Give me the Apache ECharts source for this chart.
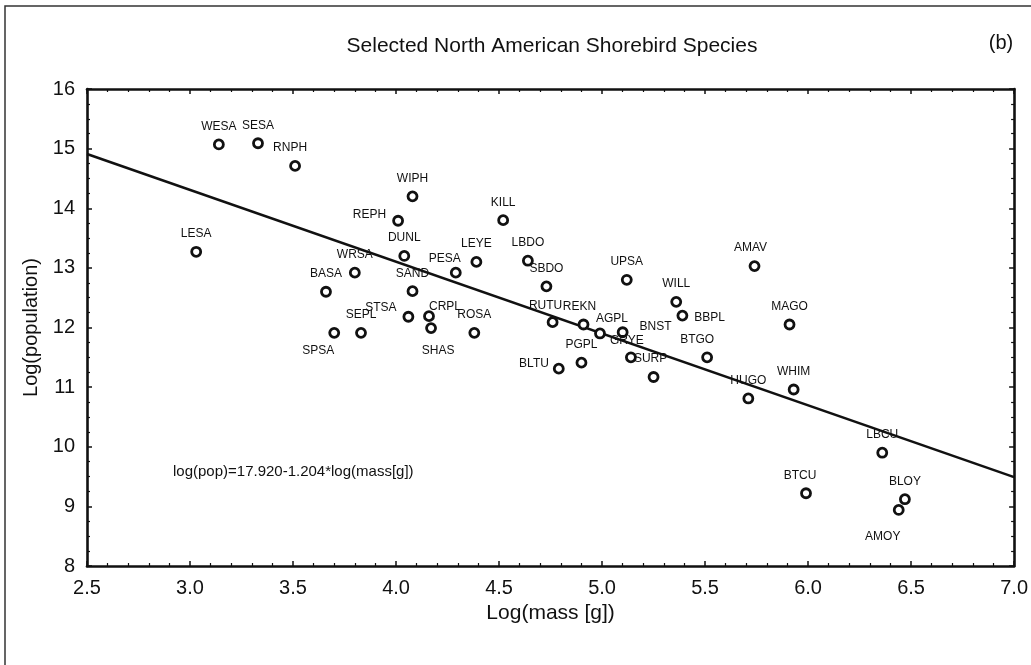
<!DOCTYPE html>
<html>
<head>
<meta charset="utf-8">
<title>Selected North American Shorebird Species</title>
<script src="https://cdn.jsdelivr.net/npm/echarts@6/dist/echarts.min.js"></script>
<style>
  html, body { margin: 0; padding: 0; background: #fff; }
  #chart { width: 1031px; height: 665px; }
</style>
</head>
<body>
<div id="chart"></div>
<script>
  // species codes, log(mass [g]) and log(population)
  var species = ['WESA','SESA','RNPH','LESA','REPH','WIPH','KILL','DUNL','LEYE','LBDO',
                 'PESA','SBDO','WRSA','SAND','BASA','UPSA','AMAV','WILL','BBPL','MAGO',
                 'STSA','CRPL','SHAS','ROSA','SEPL','SPSA','RUTU','REKN','AGPL','BNST',
                 'GRYE','SURP','PGPL','BLTU','BTGO','HUGO','WHIM','LBCU','BTCU','BLOY','AMOY'];
  var logMass = [3.14, 3.33, 3.51, 3.03, 4.01, 4.08, 4.52, 4.04, 4.39, 4.64,
                 4.29, 4.73, 3.80, 4.08, 3.66, 5.12, 5.74, 5.36, 5.39, 5.91,
                 4.06, 4.16, 4.17, 4.38, 3.83, 3.70, 4.76, 4.91, 4.99, 5.10,
                 5.14, 5.25, 4.90, 4.79, 5.51, 5.71, 5.93, 6.36, 5.99, 6.47, 6.44];
  var logPop  = [15.07, 15.09, 14.71, 13.27, 13.79, 14.20, 13.80, 13.20, 13.10, 13.12,
                 12.92, 12.69, 12.92, 12.61, 12.60, 12.80, 13.03, 12.43, 12.20, 12.05,
                 12.18, 12.19, 11.99, 11.91, 11.91, 11.91, 12.09, 12.05, 11.90, 11.92,
                 11.50, 11.17, 11.41, 11.31, 11.50, 10.81, 10.96, 9.90, 9.22, 9.12, 8.94];

  // fitted line, ends read at the plot edges
  var fitMass = [2.5, 7.0];
  var fitPop  = [14.91, 9.49];
  var fitText = 'log(pop)=17.920-1.204*log(mass[g])';

  // label placement for the ones not sitting straight above their circle
  var labelPlace = {
    RNPH: { position: 'top', offset: [-5, 0] },
    REPH: { position: 'left', offset: [0, -6] },
    PESA: { position: 'top', offset: [-11, 4] },
    BBPL: { position: 'right', offset: [0, 2] },
    STSA: { position: 'left', offset: [0, -9] },
    SPSA: { position: 'bottom', offset: [-16, 0] },
    CRPL: { position: 'top', offset: [16, 8] },
    SHAS: { position: 'bottom', offset: [7, 5] },
    AGPL: { position: 'top', offset: [12, 3] },
    BNST: { position: 'right', offset: [5, -6] },
    BLTU: { position: 'left', offset: [2, -5] },
    AMOY: { position: 'bottom', offset: [-16, 9] },
    GRYE: { position: 'top', offset: [-4, 1] },
    RUTU: { position: 'top', offset: [-7, 1] },
    REKN: { position: 'top', offset: [-4, 0] },
    SURP: { position: 'top', offset: [-3, 0] },
    BTCU: { position: 'top', offset: [-6, 0] },
    BTGO: { position: 'top', offset: [-10, 0] },
    AMAV: { position: 'top', offset: [-4, 0] }
  };

  var FONT = '"Liberation Sans", Arial, sans-serif';
  var INK = '#111';

  var points = species.map(function (name, i) {
    var p = { name: name, value: [logMass[i], logPop[i]] };
    if (labelPlace[name]) p.label = labelPlace[name];
    return p;
  });

  var tickStyle = {
    axisLine: { show: true, onZero: false, lineStyle: { color: INK, width: 2.6 } },
    axisTick: { show: true, inside: true, length: 5, lineStyle: { color: INK, width: 1.5 } },
    minorTick: { show: true, length: 3, lineStyle: { color: INK, width: 1.2 } },
    splitLine: { show: false },
    minorSplitLine: { show: false }
  };

  function axis(extra) {
    return Object.assign({}, JSON.parse(JSON.stringify(tickStyle)), extra);
  }

  var chart = echarts.init(document.getElementById('chart'));
  chart.setOption({
    backgroundColor: '#fff',
    animation: false,
    grid: { left: 87, right: 14, top: 89, bottom: 99 },
    xAxis: [
      axis({
        type: 'value', position: 'bottom', min: 2.5, max: 7, interval: 0.5,
        minorTick: { show: true, splitNumber: 5, length: 3, lineStyle: { color: INK, width: 1.2 } },
        axisLabel: {
          margin: 12, fontSize: 20, color: INK, fontFamily: FONT,
          formatter: function (v) { return v.toFixed(1); }
        },
        name: 'Log(mass [g])', nameLocation: 'middle', nameGap: 36,
        nameTextStyle: { fontSize: 21, color: INK, fontFamily: FONT }
      }),
      axis({
        type: 'value', position: 'top', min: 2.5, max: 7, interval: 0.5,
        minorTick: { show: true, splitNumber: 5, length: 3, lineStyle: { color: INK, width: 1.2 } },
        axisLabel: { show: false }
      })
    ],
    yAxis: [
      axis({
        type: 'value', position: 'left', min: 8, max: 16, interval: 1,
        minorTick: { show: true, splitNumber: 4, length: 3, lineStyle: { color: INK, width: 1.2 } },
        axisLabel: { margin: 12, fontSize: 20, color: INK, fontFamily: FONT },
        name: 'Log(population)', nameLocation: 'middle', nameGap: 44,
        nameTextStyle: { fontSize: 20, color: INK, fontFamily: FONT }
      }),
      axis({
        type: 'value', position: 'right', min: 8, max: 16, interval: 1,
        minorTick: { show: true, splitNumber: 4, length: 3, lineStyle: { color: INK, width: 1.2 } },
        axisLabel: { show: false }
      })
    ],
    series: [
      {
        type: 'line',
        data: fitMass.map(function (x, i) { return [x, fitPop[i]]; }),
        symbol: 'none',
        lineStyle: { color: INK, width: 2.5 },
        z: 2,
        silent: true
      },
      {
        type: 'scatter',
        data: points,
        symbol: 'circle',
        symbolSize: 9,
        itemStyle: { color: '#fff', borderColor: INK, borderWidth: 2.8, opacity: 1 },
        label: {
          show: true,
          position: 'top',
          distance: 6,
          formatter: '{b}',
          fontSize: 12,
          color: INK,
          fontFamily: FONT
        },
        z: 3
      }
    ],
    graphic: [
      {
        type: 'rect', silent: true, z: -1,
        shape: { x: 5, y: 6, width: 1100, height: 700 },
        style: { fill: 'none', stroke: '#333', lineWidth: 1.5 }
      },
      {
        type: 'text', x: 552, y: 46,
        style: {
          text: 'Selected North American Shorebird Species',
          textAlign: 'center', textVerticalAlign: 'middle',
          font: '21px ' + FONT, fill: INK
        }
      },
      {
        type: 'text', x: 1001, y: 43,
        style: {
          text: '(b)', textAlign: 'center', textVerticalAlign: 'middle',
          font: '20px ' + FONT, fill: INK
        }
      },
      {
        type: 'text', x: 173, y: 472,
        style: {
          text: fitText, textAlign: 'left', textVerticalAlign: 'middle',
          font: '15px ' + FONT, fill: INK
        }
      }
    ]
  });
</script>
</body>
</html>
